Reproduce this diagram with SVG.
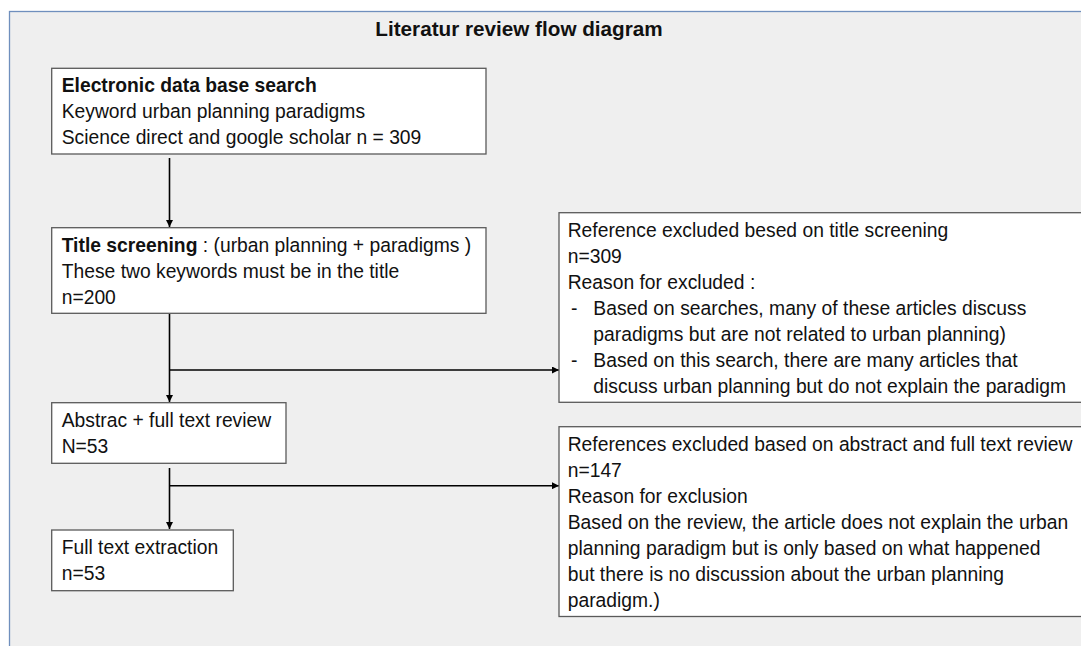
<svg xmlns="http://www.w3.org/2000/svg" width="1081" height="646" viewBox="0 0 1081 646">
<defs>
<style>
.frame{fill:#efefef;stroke:#6f8fbd;stroke-width:1.3}
.box{fill:#ffffff;stroke:#5a5a5a;stroke-width:1.3}
.t{font-family:"Liberation Sans",Arial,sans-serif;font-size:19.3px;fill:#111111}
.b{font-weight:bold}
.title{font-family:"Liberation Sans",Arial,sans-serif;font-size:20.7px;font-weight:bold;fill:#111111}
.c{fill:none;stroke:#000;stroke-width:1.6}
</style>
<marker id="ah" viewBox="0 0 8 8" refX="8" refY="4" markerWidth="7" markerHeight="7" markerUnits="userSpaceOnUse" orient="auto">
<path d="M0,0 L8,4 L0,8 Z" fill="#000"/>
</marker>
</defs>
<rect class="frame" x="9.5" y="11.5" width="1100" height="700"/>
<text class="title" x="519" y="36" text-anchor="middle">Literatur review flow diagram</text>

<g id="connectors">
<line class="c" x1="169.5" y1="158" x2="169.5" y2="227" marker-end="url(#ah)"/>
<line class="c" x1="169.5" y1="314" x2="169.5" y2="402" marker-end="url(#ah)"/>
<line class="c" x1="169.5" y1="370" x2="559" y2="370" marker-end="url(#ah)"/>
<line class="c" x1="169.5" y1="468" x2="169.5" y2="529" marker-end="url(#ah)"/>
<line class="c" x1="169.5" y1="485.7" x2="559" y2="485.7" marker-end="url(#ah)"/>
</g>

<g id="search">
<rect class="box" x="51.7" y="68.3" width="434.3" height="85.7"/>
<text class="t b" x="61.7" y="92">Electronic data base search</text>
<text class="t" x="61.7" y="118">Keyword urban planning paradigms</text>
<text class="t" x="61.7" y="144">Science direct and google scholar n = 309</text>
</g>

<g id="title-screening">
<rect class="box" x="51.7" y="227.7" width="434.3" height="85.6"/>
<text class="t" x="61.7" y="251.5"><tspan class="b">Title screening</tspan> : (urban planning + paradigms )</text>
<text class="t" x="61.7" y="277.5">These two keywords must be in the title</text>
<text class="t" x="61.7" y="303.5">n=200</text>
</g>

<g id="abstract-review">
<rect class="box" x="51.7" y="402.7" width="234.3" height="60.6"/>
<text class="t" x="61.7" y="426.5">Abstrac + full text review</text>
<text class="t" x="61.7" y="452.5">N=53</text>
</g>

<g id="full-text">
<rect class="box" x="51.7" y="530" width="181.6" height="60.7"/>
<text class="t" x="61.7" y="553.8">Full text extraction</text>
<text class="t" x="61.7" y="579.8">n=53</text>
</g>

<g id="excluded-title">
<rect class="box" x="559" y="212.7" width="560" height="189.6"/>
<text class="t" x="567.7" y="236.5">Reference excluded besed on title screening</text>
<text class="t" x="567.7" y="262.5">n=309</text>
<text class="t" x="567.7" y="288.5">Reason for excluded :</text>
<text class="t" x="571" y="314.5">-</text>
<text class="t" x="593.3" y="314.5">Based on searches, many of these articles discuss</text>
<text class="t" x="593.3" y="340.5">paradigms but are not related to urban planning)</text>
<text class="t" x="571" y="366.5">-</text>
<text class="t" x="593.3" y="366.5">Based on this search, there are many articles that</text>
<text class="t" x="593.3" y="392.5">discuss urban planning but do not explain the paradigm</text>
</g>

<g id="excluded-abstract">
<rect class="box" x="559" y="426.7" width="560" height="189.8"/>
<text class="t" x="567.7" y="450.5">References excluded based on abstract and full text review</text>
<text class="t" x="567.7" y="476.5">n=147</text>
<text class="t" x="567.7" y="502.5">Reason for exclusion</text>
<text class="t" x="567.7" y="528.5">Based on the review, the article does not explain the urban</text>
<text class="t" x="567.7" y="554.5">planning paradigm but is only based on what happened</text>
<text class="t" x="567.7" y="580.5">but there is no discussion about the urban planning</text>
<text class="t" x="567.7" y="606.5">paradigm.)</text>
</g>
</svg>
